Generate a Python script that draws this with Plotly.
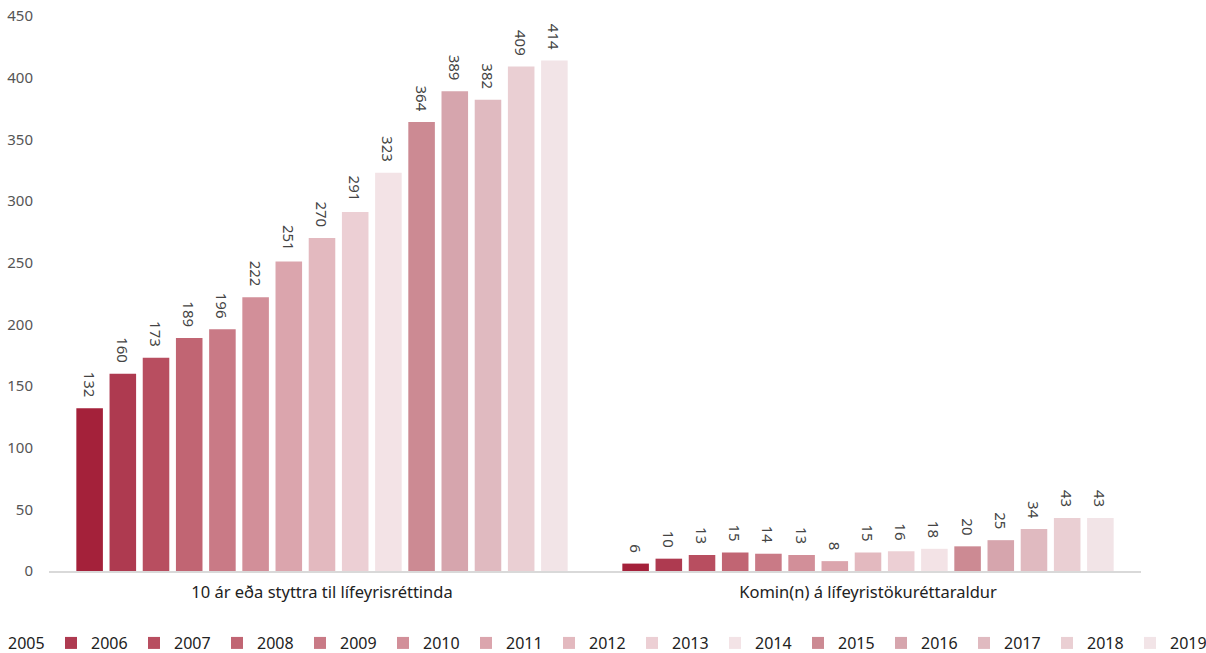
import plotly.graph_objects as go

categories = ["10 ár eða styttra til lífeyrisréttinda", "Komin(n) á lífeyristökuréttaraldur"]
years = [str(y) for y in range(2005, 2020)]
values_short = [132, 160, 173, 189, 196, 222, 251, 270, 291, 323, 364, 389, 382, 409, 414]
values_retired = [6, 10, 13, 15, 14, 13, 8, 15, 16, 18, 20, 25, 34, 43, 43]
colors = ["#A4213A", "#AE3A50", "#B84E60", "#C16573", "#C97A86", "#D28F99", "#DBA5AD",
          "#E3B9BF", "#ECCFD4", "#F3E3E6", "#CC8A93", "#D6A5AD", "#E0BAC0", "#EACFD3", "#F2E4E7"]

FONT = "Noto Sans"
PAD = "\u00a0\u00a0"
fig = go.Figure()
for i, yr in enumerate(years):
    vals = [values_short[i], values_retired[i]]
    fig.add_trace(go.Bar(
        name=yr, x=categories, y=vals, marker=dict(color=colors[i], line=dict(width=0)),
        text=[str(v) + PAD for v in vals], textposition="outside", textangle=90,
        constraintext="none", legend="legend" if i < 7 else "legend2",
        textfont=dict(family=FONT, size=15, color="#444"), cliponaxis=False,
    ))

legend_common = dict(orientation="h", xanchor="left", y=-0.1604, yanchor="bottom",
                     entrywidth=38, entrywidthmode="pixels", bgcolor="rgba(0,0,0,0)",
                     font=dict(family=FONT, size=16, color="#222"), traceorder="normal")
fig.update_layout(
    width=1206, height=653,
    margin=dict(l=49, r=65, t=16, b=82, autoexpand=False),
    paper_bgcolor="white", plot_bgcolor="white",
    barmode="group", bargap=0.088, bargroupgap=0.2,
    font=dict(family=FONT, color="#222"),
    showlegend=True,
    legend=dict(x=-0.0742, **legend_common),
    legend2=dict(x=0.4579, **legend_common),
)
fig.update_yaxes(range=[0, 450], dtick=50, showgrid=False, zeroline=False,
                 ticks="outside", ticklen=12, tickcolor="rgba(0,0,0,0)",
                 tickfont=dict(family=FONT, size=15, color="#555"), showline=False)
fig.update_xaxes(showline=True, linecolor="#d9d9d9", linewidth=2, showgrid=False,
                 ticks="outside", ticklen=5, tickcolor="rgba(0,0,0,0)",
                 tickfont=dict(family=FONT, size=16.5, color="#222"))

fig.write_html("out.html")
